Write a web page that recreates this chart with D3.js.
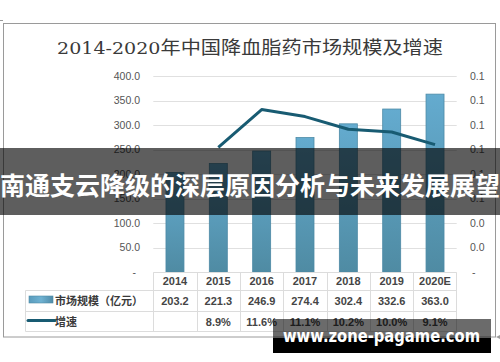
<!DOCTYPE html>
<html><head><meta charset="utf-8">
<script src="https://cdn.jsdelivr.net/npm/d3@7/dist/d3.min.js"></script>
<style>html,body{margin:0;padding:0;background:#fff;}svg{display:block;}</style>
</head><body>
<svg id="c" width="500" height="362"></svg>
<script>
const categories = ["2014","2015","2016","2017","2018","2019","2020E"];
const marketSize = [203.2,221.3,246.9,274.4,302.4,332.6,363.0];
const growth = [null,0.089,0.116,0.111,0.102,0.100,0.091];
const marketLabels = ["203.2","221.3","246.9","274.4","302.4","332.6","363.0"];
const growthLabels = ["","8.9%","11.6%","11.1%","10.2%","10.0%","9.1%"];
const leftTicks = [0,50,100,150,200,250,300,350,400];
const rightTicks = [0,0.0175,0.035,0.0525,0.07,0.0875,0.105,0.1225,0.14];
const seriesNames = ["市场规模（亿元）","增速"];
const titleNum = "2014-2020";
const titleCjk = "年中国降血脂药市场规模及增速";
const bannerText = "南通支云降级的深层原因分析与未来发展展望";
const watermark = "www.zone-pagame.com";

const svg = d3.select("#c");
const defs = svg.append("defs");
const g1 = defs.append("linearGradient").attr("id","barG").attr("x1",0).attr("x2",0).attr("y1",0).attr("y2",1);
g1.append("stop").attr("offset","0%").attr("stop-color","#64abcf");
g1.append("stop").attr("offset","100%").attr("stop-color","#4f8ba3");
const g2 = defs.append("linearGradient").attr("id","barH").attr("x1",0).attr("x2",1).attr("y1",0).attr("y2",0);
g2.append("stop").attr("offset","0%").attr("stop-color","#5a9cbd");
g2.append("stop").attr("offset","50%").attr("stop-color","#6fb2d2");
g2.append("stop").attr("offset","100%").attr("stop-color","#4f8ba8");

// frame
svg.append("rect").attr("x",3.5).attr("y",23.5).attr("width",492).attr("height",313.5)
  .attr("fill","none").attr("stroke","#9a9a9a").attr("stroke-width",1);
svg.append("line").attr("x1",0).attr("x2",3).attr("y1",20.5).attr("y2",20.5).attr("stroke","#9a9a9a");
svg.append("path").attr("d","M496,337 L500,335 L500,339 Z").attr("fill","#9a9a9a");

// title (serif digits + CJK)
const t = svg.append("text").attr("x",57).attr("y",54)
  .attr("font-size",18).attr("fill","#3a3a3a");
t.append("tspan").attr("font-family","'DejaVu Serif','Liberation Serif',serif").attr("font-size",17).text(titleNum);
t.append("tspan").attr("font-family","'Noto Sans CJK SC',sans-serif").text(titleCjk);
t.attr("textLength",386).attr("lengthAdjust","spacingAndGlyphs");

const x = d3.scaleBand().domain(categories).range([153.3,456.7]).padding(0);
const yL = d3.scaleLinear().domain([0,400]).range([272,76]);
const yR = d3.scaleLinear().domain([0,0.14]).range([272,76]);

// gridlines
svg.append("g").selectAll("line").data(leftTicks.filter(d=>d>0)).join("line")
  .attr("x1",153.3).attr("x2",456.7).attr("y1",d=>Math.round(yL(d))+0.5).attr("y2",d=>Math.round(yL(d))+0.5)
  .attr("stroke","#e0e0e0").attr("stroke-width",1);

// axes
const leftAxis = d3.axisLeft(yL).tickValues(leftTicks).tickSize(0).tickPadding(0)
  .tickFormat(d=> d===0 ? "-" : d3.format(".1f")(d));
const ga = svg.append("g").attr("transform","translate(140,0)").call(leftAxis);
ga.select(".domain").remove();
ga.selectAll("text").attr("font-family","'Liberation Sans',Arial,sans-serif").attr("font-size",10.5).attr("fill","#555");
ga.selectAll("text").filter(d=>d===0).attr("dx",-4);

const rightAxis = d3.axisRight(yR).tickValues(rightTicks).tickSize(0).tickPadding(0)
  .tickFormat(d=> d===0 ? "-" : d3.format(".1f")(d));
const gr = svg.append("g").attr("transform","translate(470,0)").call(rightAxis);
gr.select(".domain").remove();
gr.selectAll("text").attr("font-family","'Liberation Sans',Arial,sans-serif").attr("font-size",10.5).attr("fill","#555");
gr.selectAll("text").filter(d=>d===0).attr("dx",2);

// bars
const bw = 18;
svg.append("g").selectAll("rect").data(marketSize).join("rect")
  .attr("x",(d,i)=>x(categories[i])+x.bandwidth()/2-bw/2)
  .attr("y",d=>yL(d)).attr("width",bw).attr("height",d=>yL(0)-yL(d))
  .attr("fill","url(#barG)").attr("stroke","#4d8aa6").attr("stroke-width",0.8);

// line
const line = d3.line().defined(d=>d!=null)
  .x((d,i)=>x(categories[i])+x.bandwidth()/2).y(d=>yR(d));
svg.append("path").datum(growth).attr("d",line).attr("fill","none")
  .attr("stroke","#185b72").attr("stroke-width",3).attr("stroke-linejoin","round");

// data table
const tc = "#dcdcdc";
const tbl = svg.append("g").attr("stroke",tc).attr("stroke-width",1);
tbl.append("line").attr("x1",153.3).attr("x2",456.7).attr("y1",272.5).attr("y2",272.5);
[290.5,311.5,331.5].forEach(yy=>tbl.append("line").attr("x1",25.5).attr("x2",456.7).attr("y1",yy).attr("y2",yy));
tbl.append("line").attr("x1",25.5).attr("x2",25.5).attr("y1",290.5).attr("y2",331.5);
categories.forEach(c=>tbl.append("line").attr("x1",Math.round(x(c))+0.5).attr("x2",Math.round(x(c))+0.5).attr("y1",272.5).attr("y2",331.5));
tbl.append("line").attr("x1",456.5).attr("x2",456.5).attr("y1",272.5).attr("y2",331.5);

const tf = "'Liberation Sans',Arial,'Noto Sans CJK SC',sans-serif";
const tw = "bold", tcol = "#454545";
svg.append("g").selectAll("text").data(categories).join("text")
  .attr("x",d=>x(d)+x.bandwidth()/2).attr("y",284.5).attr("text-anchor","middle")
  .attr("font-family",tf).attr("font-size",11).attr("font-weight",tw).attr("fill",tcol).text(d=>d);
svg.append("g").selectAll("text").data(marketLabels).join("text")
  .attr("x",(d,i)=>x(categories[i])+x.bandwidth()/2).attr("y",304.5).attr("text-anchor","middle")
  .attr("font-family",tf).attr("font-size",11).attr("font-weight",tw).attr("fill",tcol).text(d=>d);
svg.append("g").selectAll("text").data(growthLabels).join("text")
  .attr("x",(d,i)=>x(categories[i])+x.bandwidth()/2).attr("y",325.5).attr("text-anchor","middle")
  .attr("font-family",tf).attr("font-size",11).attr("font-weight",tw).attr("fill",tcol).text(d=>d);

// legend keys in table
svg.append("rect").attr("x",29).attr("y",296).attr("width",24).attr("height",7)
  .attr("fill","url(#barH)").attr("stroke","#4d8aa6").attr("stroke-width",0.6);
svg.append("line").attr("x1",28).attr("x2",55).attr("y1",320.5).attr("y2",320.5)
  .attr("stroke","#185b72").attr("stroke-width",3).attr("stroke-linecap","round");
svg.append("text").attr("x",55).attr("y",305).attr("font-family","'Noto Sans CJK SC',sans-serif")
  .attr("font-size",11).attr("font-weight","bold").attr("fill","#3a3a3a").text(seriesNames[0]);
svg.append("text").attr("x",55).attr("y",325.5).attr("font-family","'Noto Sans CJK SC',sans-serif")
  .attr("font-size",11).attr("font-weight","bold").attr("fill","#3a3a3a").text(seriesNames[1]);

// banner overlay
svg.append("rect").attr("x",0).attr("y",148).attr("width",500).attr("height",67).attr("fill","rgba(0,0,0,0.63)");
svg.append("text").attr("x",0).attr("y",195).attr("font-family","'Noto Sans CJK SC',sans-serif")
  .attr("font-size",25).attr("font-weight","bold").attr("fill","#fff")
  .attr("textLength",500).attr("lengthAdjust","spacingAndGlyphs").text(bannerText);

// watermark
svg.append("rect").attr("x",273).attr("y",319).attr("width",218).attr("height",19).attr("fill","rgba(0,0,0,0.58)");
svg.append("rect").attr("x",273).attr("y",338).attr("width",218).attr("height",15).attr("fill","#000");
svg.append("text").attr("x",283).attr("y",342).attr("font-family","'DejaVu Sans',sans-serif")
  .attr("font-size",17).attr("font-weight","bold").attr("fill","#fff")
  .attr("textLength",197).attr("lengthAdjust","spacingAndGlyphs").text(watermark);
</script>
</body></html>
